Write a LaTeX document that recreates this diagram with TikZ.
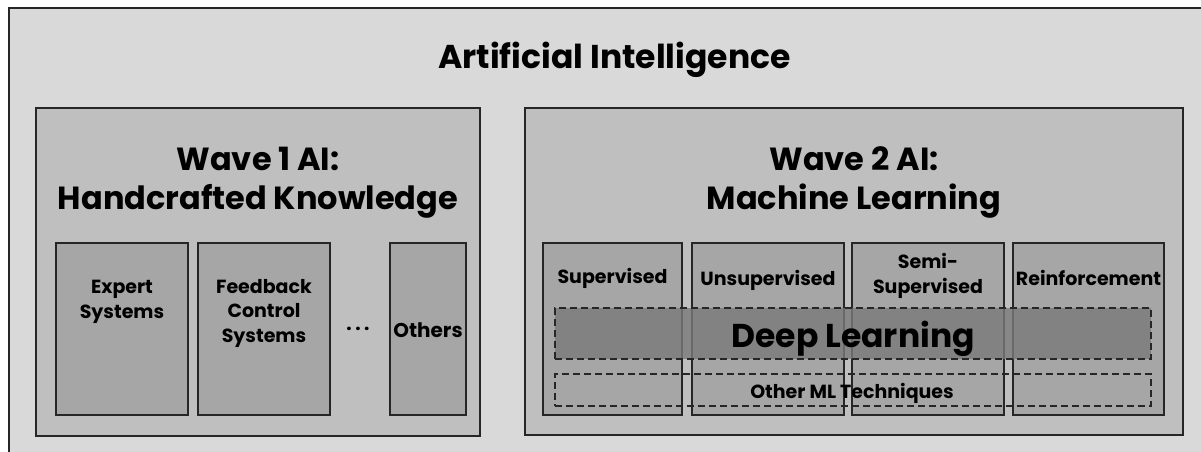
\documentclass[tikz,border=0pt]{standalone}
\usepackage{fontspec}
\setmainfont{Poppins}
\usetikzlibrary{positioning}

\definecolor{outergray}{HTML}{D9D9D9}
\definecolor{wavegray}{HTML}{BFBFBF}
\definecolor{innergray}{HTML}{A6A6A6}
\definecolor{deepgray}{HTML}{7A7A7A}
\definecolor{linegray}{HTML}{262626}

\begin{document}
\begin{tikzpicture}[x=1pt,y=-1pt]
	  \useasboundingbox (0,0) rectangle (1201,451);
	  \clip (0,0) rectangle (1201,451);
	  \tikzset{BoxStyle/.style = {shape        = rectangle,
	                             draw         = linegray,
	                             line width   = 1.1pt,
	                             inner sep    = 0pt,
	                             outer sep    = 0pt}}

	  \tikzset{OuterStyle/.style = {BoxStyle, fill = outergray}}
	  \tikzset{WaveStyle/.style  = {BoxStyle, fill = wavegray}}
	  \tikzset{CellStyle/.style  = {BoxStyle, fill = innergray,
	                               minimum height = 172pt}}

	  \tikzset{BandStyle/.style = {shape        = rectangle,
	                              draw         = linegray,
	                              line width   = 1.3pt,
	                              dash pattern = on 7pt off 4pt,
	                              inner sep    = 0pt,
	                              minimum width = 596pt}}

	  \tikzset{BigText/.style   = {anchor = base, align = center, inner sep = 0pt,
	                              font = \fontsize{32}{39}\selectfont\bfseries}}
	  \tikzset{SmallText/.style = {anchor = base, align = center, inner sep = 0pt,
	                              font = \fontsize{19}{24.5}\selectfont\bfseries}}

	     % frames
	     \node[OuterStyle, minimum width = 1221pt, minimum height = 472pt] (AI) at (619.5,244) {};
	     \node[WaveStyle, minimum width = 444pt, minimum height = 328pt] (W_1) at (258,272) {};
	     \node[WaveStyle, minimum width = 658pt, minimum height = 327pt] (W_2) at (854,271.5) {};

	     % wave 1 cells
	     \node[CellStyle, minimum width = 132pt] (C_1) at (122,329) {};
	     \node[CellStyle, minimum width = 132pt] (C_2) at (264,329) {};
	     \node[CellStyle, minimum width = 76pt]  (C_3) at (428,329) {};

	     % wave 2 cells
	     \node[CellStyle, minimum width = 139pt] (M_1) at (612.5,329) {};
	     \node[CellStyle, minimum width = 152pt] (M_2) at (768,329) {};
	     \node[CellStyle, minimum width = 152pt] (M_3) at (928,329) {};
	     \node[CellStyle, minimum width = 151pt] (M_4) at (1088.5,329) {};

	     % bands across the cells
	     \node[BandStyle, fill = deepgray, fill opacity = 0.8, minimum height = 51pt] (DL) at (853,333.5) {};
	     \node[BandStyle, minimum height = 32pt] (OML) at (853,390) {};

	     % texts (base = last line)
	     \node[BigText, font = \fontsize{33}{39}\selectfont\bfseries] (T_AI) at (614.5,68) {Artificial Intelligence};
	     \node[BigText] (T_W1) at (258,209) {Wave 1 AI:\\Handcrafted Knowledge};
	     \node[BigText] (T_W2) at (854,209) {Wave 2 AI:\\Machine Learning};

	     \node[SmallText] (T_C1) at (122,318) {Expert\\Systems};
	     \node[SmallText] (T_C2) at (264,342) {Feedback\\Control\\Systems};
	     \node[SmallText] (T_dots) at (358,330) {.\kern3.5pt.\kern3.5pt.};
	     \node[SmallText, font = \fontsize{20}{24}\selectfont\bfseries] (T_C3) at (428,337) {Others};

	     \node[SmallText] (T_M1) at (612.5,283) {Supervised};
	     \node[SmallText] (T_M2) at (768,285) {Unsupervised};
	     \node[SmallText] (T_M3) at (928,293) {Semi-\\Supervised};
	     \node[SmallText] (T_M4) at (1088.5,285) {Reinforcement};

	     \node[BigText, font = \fontsize{33}{39}\selectfont\bfseries] (T_DL) at (853,347) {Deep Learning};
	     \node[SmallText] (T_OML) at (852,398) {Other ML Techniques};

	  \end{tikzpicture}
\end{document}
